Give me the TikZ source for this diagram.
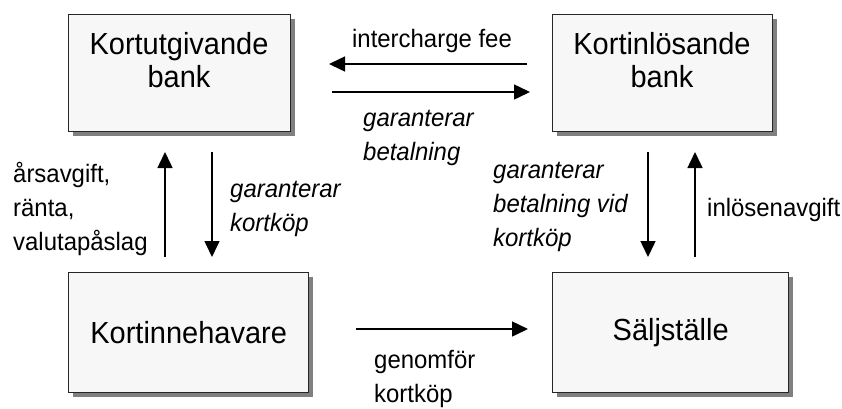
\documentclass[tikz,border=0pt]{standalone}
\usepackage{fontspec}
\setmainfont{Liberation Sans}
\newfontfamily\tallfont[FakeStretch=0.95]{Liberation Sans}
\usetikzlibrary{arrows.meta,shadows}
\begin{document}
\begin{tikzpicture}[x=1pt,y=-1pt,
  box/.style={draw=black!85, line width=1.3pt, fill=black!3,
    drop shadow={shadow xshift=4pt, shadow yshift=-4pt, fill=black!50, opacity=1},
    inner sep=0pt},
  big/.style={font=\tallfont\fontsize{30.5}{33}\selectfont, align=center, inner sep=0pt},
  lbl/.style={font=\tallfont\fontsize{25.2}{34}\selectfont, align=left, inner sep=0pt},
  ilbl/.style={font=\tallfont\fontsize{25.2}{34}\selectfont\itshape, align=left, inner sep=0pt},
  arr/.style={line width=1.5pt, -{Triangle[length=16pt,width=15pt]}}
]
\useasboundingbox (0,0) rectangle (842,408);

% boxes
\node[box, minimum width=222pt, minimum height=117pt, anchor=north west] (kb) at (68,14) {};
\node[box, minimum width=220pt, minimum height=117pt, anchor=north west] (ib) at (552,14) {};
\node[box, big, minimum width=240pt, minimum height=120pt, anchor=north west] (kh) at (68,272) {Kortinnehavare};
\node[box, big, minimum width=236pt, minimum height=120pt, anchor=north west] (sj) at (552,272) {Säljställe};

\node[big, anchor=north] (kbt) at (179,32) {Kortutgivande\\bank};
\node[big, anchor=north] (ibt) at (662,32) {Kortinlösande\\bank};

% connector end points
\coordinate (h1s) at (527,64);  \coordinate (h1e) at (329,64);
\coordinate (h2s) at (332,92);  \coordinate (h2e) at (530,92);
\coordinate (l1s) at (165,257); \coordinate (l1e) at (165,152);
\coordinate (l2s) at (212,152); \coordinate (l2e) at (212,257);
\coordinate (r1s) at (648,152); \coordinate (r1e) at (648,257);
\coordinate (r2s) at (695,257); \coordinate (r2e) at (695,152);
\coordinate (bs) at (356,329);  \coordinate (be) at (528,329);

\draw[arr] (h1s) -- (h1e);
\draw[arr] (h2s) -- (h2e);
\draw[arr] (l1s) -- (l1e);
\draw[arr] (l2s) -- (l2e);
\draw[arr] (r1s) -- (r1e);
\draw[arr] (r2s) -- (r2e);
\draw[arr] (bs) -- (be);

% labels
\node[lbl, anchor=base] (ic) at (432,47) {intercharge fee};
\node[ilbl, anchor=west] (gb) at (363,138) {garanterar\\betalning};
\node[lbl, anchor=west] (ars) at (13,209) {årsavgift,\\ränta,\\valutapåslag};
\node[ilbl, anchor=west] (gk) at (230,209) {garanterar\\kortköp};
\node[ilbl, anchor=west] (gbv) at (493,207) {garanterar\\betalning vid\\kortköp};
\node[lbl, anchor=west] (inl) at (707,210) {inlösenavgift};
\node[lbl, anchor=west] (gen) at (374,379) {genomför\\kortköp};
\end{tikzpicture}
\end{document}
